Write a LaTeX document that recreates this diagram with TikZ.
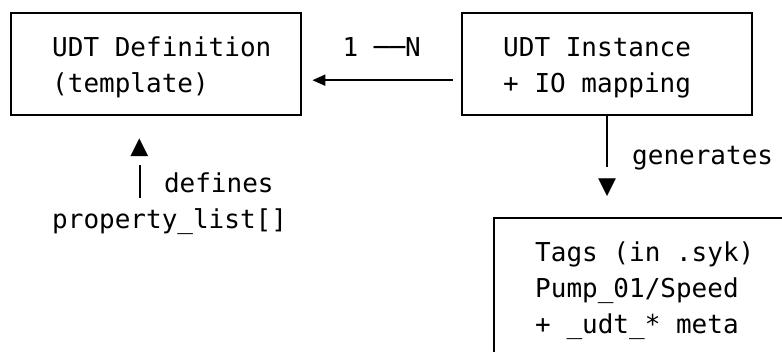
\documentclass[tikz,border=0pt]{standalone}
\usepackage{fontspec}
\setmonofont{DejaVu Sans Mono}
\usetikzlibrary{arrows.meta,positioning,calc}
\newcommand{\boxfont}{\ttfamily\fontsize{26}{36}\selectfont}

\begin{document}
\begin{tikzpicture}[x=1pt,y=-1pt,
    box/.style={draw,line width=2.4pt,align=left,font=\boxfont,text width=290pt,inner xsep=0pt,inner ysep=0pt,
      text height=43pt,text depth=59pt,anchor=north west,execute at begin node={\leftskip=41pt\spaceskip=0pt}},
    lbl/.style={font=\boxfont,inner sep=0pt},
    tipglyph/.style={font=\ttfamily\fontsize{30}{36}\selectfont,inner sep=0pt},
    arrow/.style={-{Triangle[length=13pt,width=11pt]},line width=2pt},
    wire/.style={line width=2pt}
  ]
  \useasboundingbox (0,0) rectangle (782,351);
  \clip (0,0) rectangle (782,351);

  \node[box] (def) at (10,12) {UDT Definition\\(template)};
  \node[box] (inst) at (461,12) {UDT Instance\\+ IO mapping};
  \node[box,text depth=95pt] (tags) at (493,217) {Tags (in .syk)\\Pump\_01/Speed\\+ \_udt\_* meta};

  % instance -> definition, 1:N
  \draw[arrow,shorten <=8pt,shorten >=10pt] ([yshift=-16pt]inst.west) -- ([yshift=-16pt]def.east)
    node[lbl,midway,anchor=base,yshift=24pt] (card) {1 ──N};

  % instance generates tags
  \coordinate[below=51pt of inst] (genend);
  \draw[wire] (inst.south) -- (genend)
    node[lbl,pos=1,anchor=base west,xshift=24pt,yshift=3pt] (generates) {generates};
  \node[tipglyph,below=11pt of genend] (downtip) {▼};

  % property list defines the template
  \node[lbl,anchor=base west] (props) at (52,228) {property\_list[]};
  \coordinate (defbot) at (139.5,198);
  \coordinate[above=33pt of defbot] (deftop);
  \draw[wire] (deftop) -- (defbot)
    node[lbl,pos=1,anchor=base west,xshift=23.5pt,yshift=6pt] (defines) {defines};
  \node[tipglyph,above=8pt of deftop] (uptip) {▲};
\end{tikzpicture}
\end{document}
